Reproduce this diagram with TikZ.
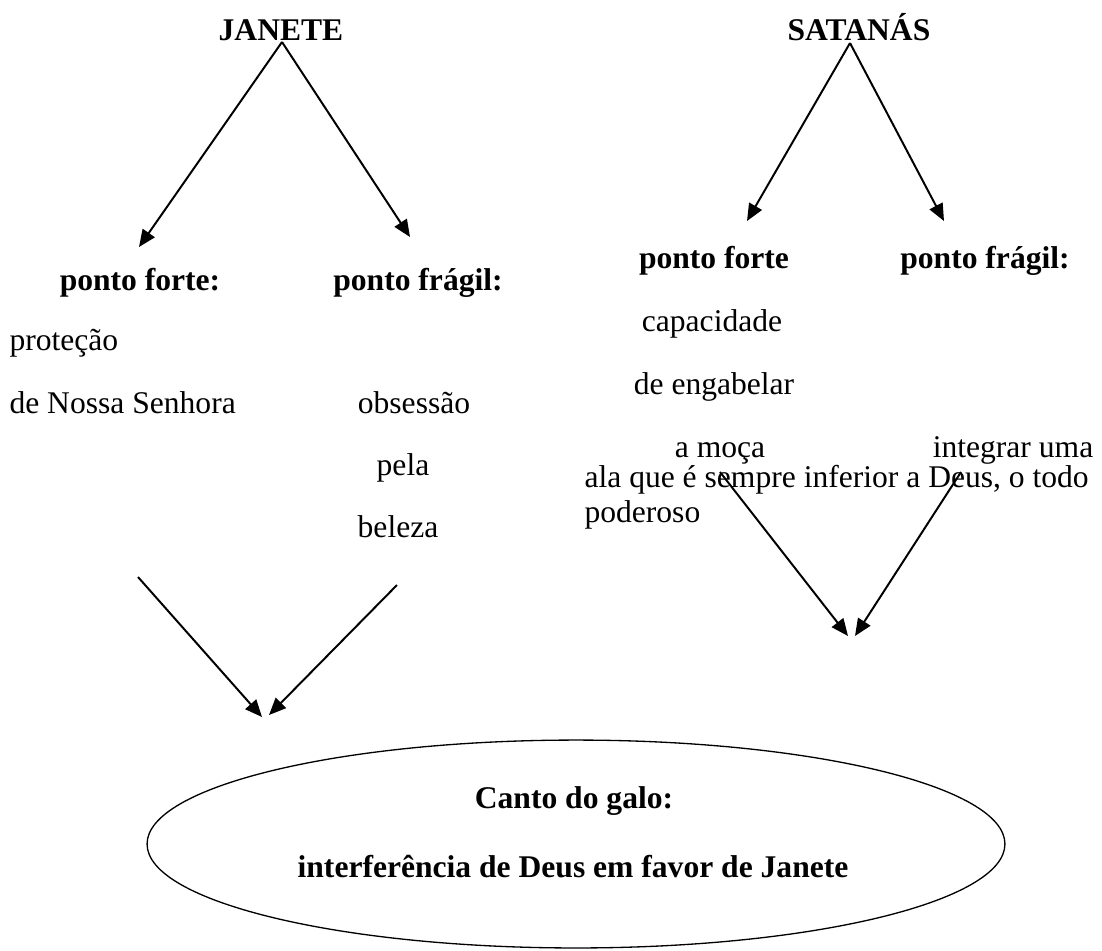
\documentclass[tikz,border=0pt]{standalone}
\usepackage{fontspec}
\setmainfont{Liberation Serif}
\usetikzlibrary{arrows.meta,shapes.geometric}

\begin{document}
\begin{tikzpicture}[x=0.38pt, y=-0.38pt,
    >={Triangle[length=6.5pt,width=5.5pt]},
    every node/.style={inner sep=0pt, anchor=base, font=\fontsize{12}{14}\selectfont},
    titulo/.style={font=\fontsize{12}{14}\selectfont\bfseries},
    seta/.style={->, line width=0.75pt}]
    \useasboundingbox (0,0) rectangle (1102,950);

    % personagens
    \node[titulo] (janete)  at (281,40) {JANETE};
    \node[titulo] (satanas) at (859,40) {SATANÁS};

    % Janete
    \node[titulo] (jforte)  at (140,290) {ponto forte:};
    \node[titulo] (jfragil) at (418,290) {ponto frágil:};
    \node[anchor=base west] (jprot)  at (9,350) {proteção};
    \node[anchor=base west] (jsenh)  at (9,413) {de Nossa Senhora};
    \node (jobs)  at (414,413) {obsessão};
    \node (jpela) at (403,475) {pela};
    \node (jbel)  at (398,537) {beleza};

    % Satanás
    \node[titulo] (sforte)  at (714,268) {ponto forte};
    \node[titulo] (sfragil) at (985,268) {ponto frágil:};
    \node (scap)  at (712,331) {capacidade};
    \node (seng)  at (714,394) {de engabelar};
    \node (smoca) at (720,457) {a moça};
    \node (sint)  at (1013,457) {integrar uma};
    \node[anchor=base west] (sala) at (584,487) {ala que é sempre inferior a Deus, o todo};
    \node[anchor=base west] (spod) at (584,522) {poderoso};

    % canto do galo
    \node[draw, ellipse, line width=0.5pt, minimum width=326pt, minimum height=79pt] (galo) at (576,844) {};
    \node[titulo] (canto)  at (574,808) {Canto do galo:};
    \node[titulo] (interf) at (573,877) {interferência de Deus em favor de Janete};

    % pontas soltas das setas
    \coordinate (janete-o)  at (282,42);
    \coordinate (janete-e)  at (139,247);
    \coordinate (janete-d)  at (410,237);
    \coordinate (satanas-o) at (850,43);
    \coordinate (satanas-e) at (747,221);
    \coordinate (satanas-d) at (944,221);
    \coordinate (jb-e)   at (138,577);
    \coordinate (jb-d)   at (397,585);
    \coordinate (jb-fim-e) at (262,717);
    \coordinate (jb-fim-d) at (269,715);
    \coordinate (sb-e)   at (720,472);
    \coordinate (sb-d)   at (961,472);
    \coordinate (sb-fim-e) at (848,636);
    \coordinate (sb-fim-d) at (855,636);

    \path[seta] (janete-o)  edge (janete-e)
                (janete-o)  edge (janete-d)
                (satanas-o) edge (satanas-e)
                (satanas-o) edge (satanas-d)
                (jb-e)      edge (jb-fim-e)
                (jb-d)      edge (jb-fim-d)
                (sb-e)      edge (sb-fim-e)
                (sb-d)      edge (sb-fim-d);
  \end{tikzpicture}
\end{document}
